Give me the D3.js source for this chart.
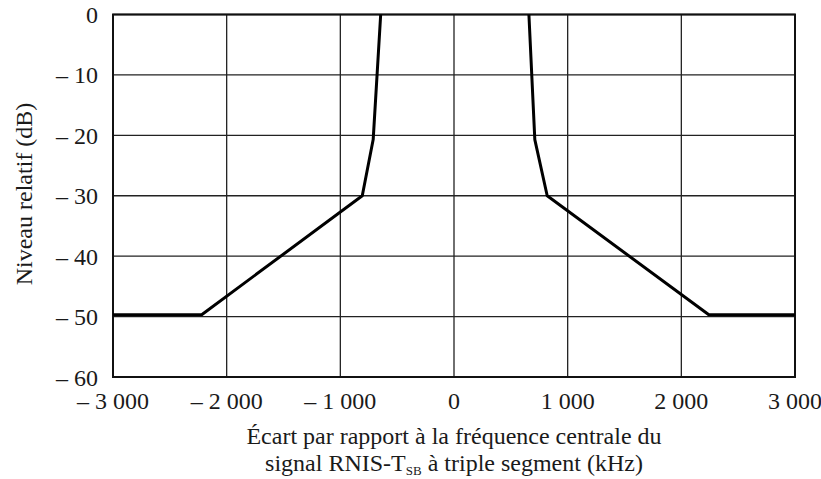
<!DOCTYPE html>
<html><head><meta charset="utf-8">
<script src="https://cdn.jsdelivr.net/npm/d3@7"></script>
<style>body{margin:0;background:#fff}svg{display:block}text{font-family:"Liberation Serif","Times New Roman",serif;fill:#1a1a1a}</style>
</head><body>
<svg id="c" width="821" height="479"></svg>
<script>
const xTicks = [-3000, -2000, -1000, 0, 1000, 2000, 3000];
const xTickLabels = ["\u2013 3 000", "\u2013 2 000", "\u2013 1 000", "0", "1 000", "2 000", "3 000"];
const yTicks = [0, -10, -20, -30, -40, -50, -60];
const yTickLabels = ["0", "\u2013 10", "\u2013 20", "\u2013 30", "\u2013 40", "\u2013 50", "\u2013 60"];
const leftFreq = [-3000, -2220, -807, -711, -645];
const leftLevel = [-49.7, -49.7, -30, -20.7, 0];
const rightFreq = [659, 711, 820, 2242, 3000];
const rightLevel = [0, -20.7, -30, -49.7, -49.7];

const svg = d3.select("#c");
const L = 113, R = 795, T = 14.5, B = 377;
const x = d3.scaleLinear().domain([-3000, 3000]).range([L, R]);
const y = d3.scaleLinear().domain([-60, 0]).range([B, T]);

// grid
svg.append("g").selectAll("line").data(xTicks).join("line")
  .attr("x1", d => x(d)).attr("x2", d => x(d)).attr("y1", T).attr("y2", B)
  .attr("stroke", "#222").attr("stroke-width", 1.3);
svg.append("g").selectAll("line").data(yTicks).join("line")
  .attr("y1", d => y(d)).attr("y2", d => y(d)).attr("x1", L).attr("x2", R)
  .attr("stroke", "#222").attr("stroke-width", 1.3);
svg.append("rect").attr("x", L).attr("y", T).attr("width", R - L).attr("height", B - T)
  .attr("fill", "none").attr("stroke", "#111").attr("stroke-width", 2);

// tick labels
svg.append("g").selectAll("text").data(xTicks).join("text")
  .attr("x", d => x(d)).attr("y", 409).attr("text-anchor", "middle")
  .attr("font-size", 24).text((d, i) => xTickLabels[i]);
svg.append("g").selectAll("text").data(yTicks).join("text")
  .attr("x", 98).attr("y", d => y(d) + 8.5).attr("text-anchor", "end")
  .attr("font-size", 24).text((d, i) => yTickLabels[i]);

// mask lines
const line = d3.line().x(d => x(d[0])).y(d => y(d[1]));
[[leftFreq, leftLevel], [rightFreq, rightLevel]].forEach(([fs, ls]) => {
  svg.append("path").datum(fs.map((f, i) => [f, ls[i]]))
    .attr("d", line).attr("fill", "none").attr("stroke", "#000")
    .attr("stroke-width", 3).attr("stroke-linejoin", "round");
});

// axis titles
svg.append("text").attr("transform", "translate(32,194) rotate(-90)")
  .attr("text-anchor", "middle").attr("font-size", 24).text("Niveau relatif (dB)");
svg.append("text").attr("x", 454).attr("y", 444).attr("text-anchor", "middle")
  .attr("font-size", 24).text("\u00C9cart par rapport \u00E0 la fr\u00E9quence centrale du");
const t2 = svg.append("text").attr("x", 454).attr("y", 471).attr("text-anchor", "middle").attr("font-size", 24);
t2.append("tspan").text("signal RNIS-T");
t2.append("tspan").attr("font-size", 13).attr("dy", 4).text("SB");
t2.append("tspan").attr("dy", -4).text(" \u00E0 triple segment (kHz)");
</script>
</body></html>
